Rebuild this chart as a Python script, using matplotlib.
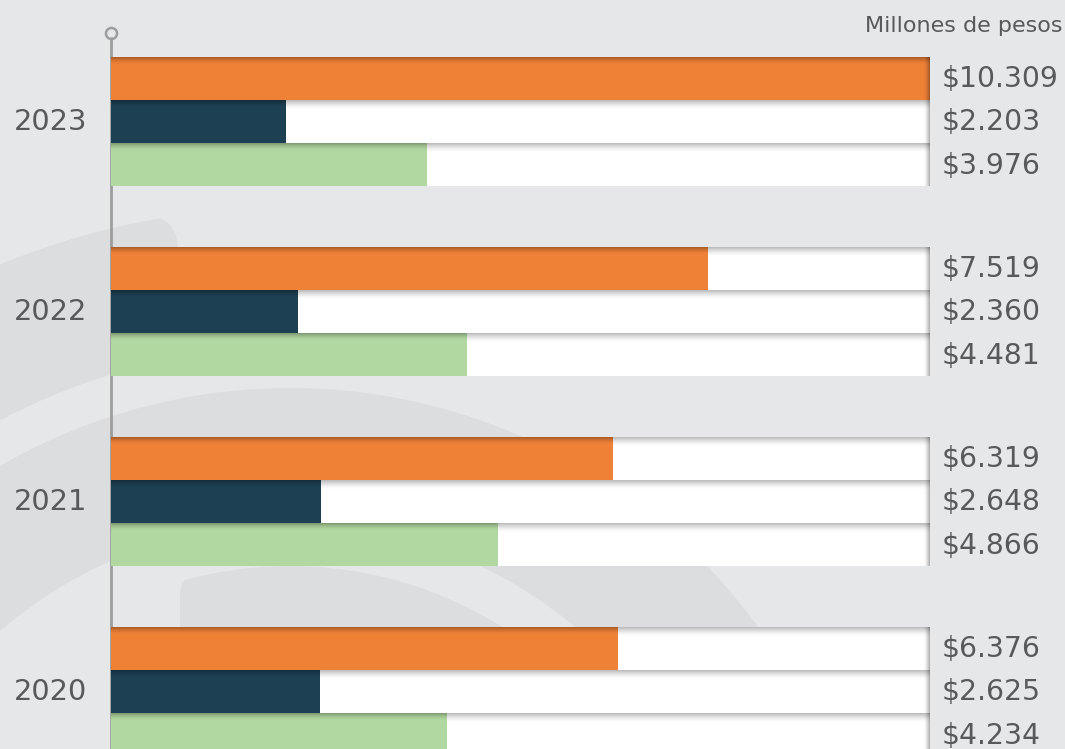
import numpy as np
import matplotlib
matplotlib.use("Agg")
import matplotlib.pyplot as plt
from matplotlib.patches import Circle, Wedge, FancyBboxPatch

# ---- data ----
years = ["2023", "2022", "2021", "2020"]
serie_naranja = [10309, 7519, 6319, 6376]
serie_azul = [2203, 2360, 2648, 2625]
serie_verde = [3976, 4481, 4866, 4234]
etiquetas_naranja = ["$10.309", "$7.519", "$6.319", "$6.376"]
etiquetas_azul = ["$2.203", "$2.360", "$2.648", "$2.625"]
etiquetas_verde = ["$3.976", "$4.481", "$4.866", "$4.234"]
unidad = "Millones de pesos"

# ---- style ----
BG = "#e6e7e8"
BG_DARK = "#dcdddf"
ORANGE = "#ef8137"
NAVY = "#1d4052"
GREEN = "#b2d8a1"
TEXT = "#58595b"
AXIS = "#9d9d9d"
FONT = ["DejaVu Sans"]

W, H = 1065, 749
fig = plt.figure(figsize=(W / 100, H / 100), dpi=100, facecolor=BG)

# ---- decorative background watermark (pixel coordinates) ----
bg = fig.add_axes([0, 0, 1, 1], zorder=0)
bg.set_xlim(0, W)
bg.set_ylim(H, 0)
bg.axis("off")
bg.set_facecolor(BG)
C = (290, 966)
band = Wedge(C, 759, 180, 360, width=759 - 618, facecolor=BG_DARK, edgecolor="none")
bg.add_patch(band)
clipA = FancyBboxPatch((-300, 215), 478, 900, boxstyle="round,pad=0,rounding_size=36",
                       transform=bg.transData, facecolor="none", edgecolor="none")
band.set_clip_path(clipA)
bg.add_patch(Circle(C, 578, facecolor=BG_DARK, edgecolor="none"))
bg.add_patch(Circle(C, 443, facecolor=BG, edgecolor="none"))
inner = Circle(C, 400, facecolor=BG_DARK, edgecolor="none")
bg.add_patch(inner)
clipI = FancyBboxPatch((180, 566), 1000, 900, boxstyle="round,pad=0,rounding_size=32",
                       transform=bg.transData, facecolor="none", edgecolor="none")
inner.set_clip_path(clipI)

# ---- main axes ----
ax = fig.add_axes([0, 0, 1, 1], zorder=1)
ax.patch.set_alpha(0)
xmax = max(serie_naranja)
x0px, x1px = 111, 930
upp = xmax / (x1px - x0px)  # data units per pixel
ax.set_xlim(-x0px * upp, (W - x0px) * upp)
gap = 190.0
ax.set_ylim((H - 121.5) / gap, -121.5 / gap)
ax.axis("off")
ypx = 1.0 / gap  # y units per pixel
bh = 43.3 * ypx

# axis line with circle
ax.plot([0, 0], [(33 - 121.5) / gap + 4 * ypx, ax.get_ylim()[0]], color=AXIS, lw=2.0,
        zorder=1, solid_capstyle="butt")
ax.plot([0], [(33 - 121.5) / gap], marker="o", ms=8, mfc="none", mec=AXIS, mew=1.8, zorder=1)

def top_shadow(y_top, width, n, amax, zo):
    for i in range(n):
        a = amax * (1 - i / n) ** 1.6
        ax.barh(y_top + (i + 0.5) * ypx, width, height=ypx, left=0,
                color="black", alpha=a, linewidth=0, zorder=zo)

series = [(serie_naranja, ORANGE, etiquetas_naranja, -1),
          (serie_azul, NAVY, etiquetas_azul, 0),
          (serie_verde, GREEN, etiquetas_verde, 1)]
pos = np.arange(len(years))

for vals, col, labs, off in series:
    yc = pos + off * bh
    ax.barh(yc, [xmax] * len(pos), height=bh, left=0, color="white", linewidth=0, zorder=2)
    for y, v, lab in zip(yc, vals, labs):
        y_top = y - bh / 2
        top_shadow(y_top, xmax, 9, 0.26, 3)
        ax.barh(y, v, height=bh, left=0, color=col, linewidth=0, zorder=4)
        top_shadow(y_top, v, 7, 0.27, 5)
        for k in range(6):
            a = 0.3 * ((k + 1) / 6) ** 1.6
            ax.barh(y, upp, height=bh, left=xmax - (6 - k) * upp, color="black",
                    alpha=a, linewidth=0, zorder=6)
        ax.text(xmax + 12 * upp, y + 9 * ypx, lab, ha="left", va="baseline",
                fontsize=20.3, color=TEXT, family=FONT, zorder=7)

for p, yr in zip(pos, years):
    ax.text(-60.5 * upp, p + 8.5 * ypx, yr, ha="center", va="baseline", fontsize=20.8,
            color=TEXT, family=FONT, zorder=7)

ax.text((W - 2 - x0px) * upp, (31.5 - 121.5) / gap, unidad, ha="right", va="baseline",
        fontsize=16, color=TEXT, family=FONT, zorder=7)

fig.savefig("out.png", dpi=100, facecolor=BG)
